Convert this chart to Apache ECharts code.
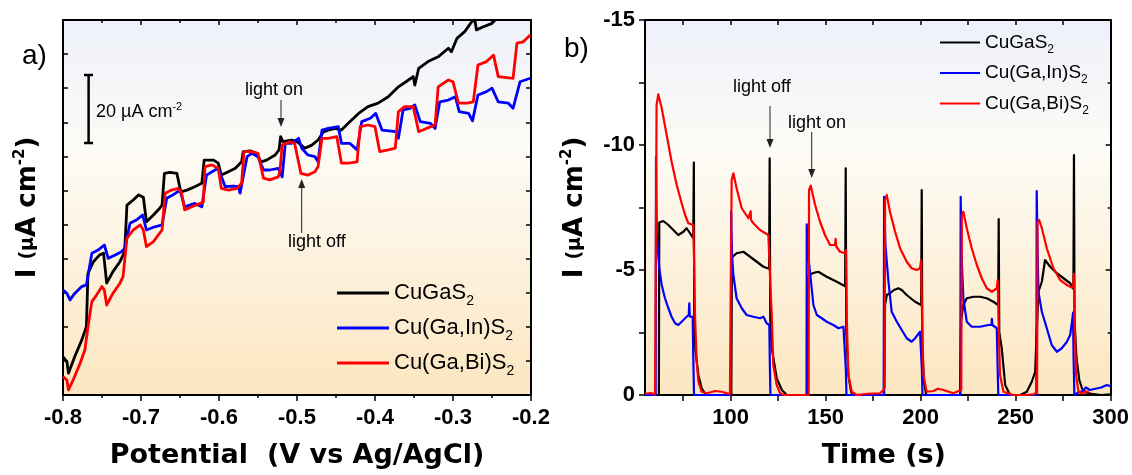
<!DOCTYPE html>
<html><head><meta charset="utf-8">
<script src="https://cdn.jsdelivr.net/npm/echarts@6/dist/echarts.min.js"></script>
<style>html,body{margin:0;padding:0;background:#fff}#c{width:1132px;height:475px}</style>
</head><body><div id="c"></div>
<script>
// ---------- names / colours ----------
const seriesNames = ['CuGaS2', 'Cu(Ga,In)S2', 'Cu(Ga,Bi)S2'];
const seriesColors = ['#000000', '#0000ff', '#ff0000'];

// ---------- panel a: chopped LSV, [potential V, current µA cm-2] ----------
const lsvCuGaS2 = [[-0.800,11.2],[-0.795,9.8],[-0.793,6.4],[-0.785,11.2],[-0.776,16.1],[-0.770,20.0],[-0.768,35.7],[-0.761,39.1],[-0.753,41.1],[-0.748,41.6],[-0.744,32.8],[-0.736,36.2],[-0.727,39.1],[-0.721,42.0],[-0.718,55.7],[-0.710,57.2],[-0.703,58.7],[-0.697,58.0],[-0.693,50.8],[-0.684,52.8],[-0.676,54.8],[-0.673,55.7],[-0.670,65.0],[-0.663,65.3],[-0.654,65.0],[-0.649,59.6],[-0.641,60.1],[-0.631,61.1],[-0.622,62.1],[-0.619,68.9],[-0.607,68.9],[-0.601,68.0],[-0.597,64.5],[-0.588,65.5],[-0.579,66.5],[-0.571,68.4],[-0.569,71.4],[-0.560,71.6],[-0.552,70.9],[-0.546,68.4],[-0.539,68.9],[-0.528,70.4],[-0.523,71.9],[-0.521,75.8],[-0.518,74.3],[-0.507,74.8],[-0.500,74.3],[-0.490,72.4],[-0.481,73.3],[-0.473,74.8],[-0.466,77.2],[-0.460,77.7],[-0.451,78.2],[-0.443,77.7],[-0.432,80.2],[-0.421,82.6],[-0.409,84.6],[-0.396,85.6],[-0.383,87.5],[-0.370,90.4],[-0.357,92.4],[-0.351,93.4],[-0.349,90.9],[-0.344,95.8],[-0.332,97.8],[-0.319,99.2],[-0.306,101.7],[-0.302,100.7],[-0.295,104.6],[-0.285,106.6],[-0.276,109.5],[-0.272,110.0],[-0.270,107.1],[-0.261,108.0],[-0.250,109.0],[-0.246,110.0]];
const lsvCuGaInS2 = [[-0.800,30.8],[-0.795,29.8],[-0.791,27.9],[-0.785,29.8],[-0.776,31.8],[-0.770,32.3],[-0.763,41.6],[-0.755,42.5],[-0.747,44.0],[-0.742,40.1],[-0.733,41.1],[-0.725,42.0],[-0.721,43.0],[-0.714,50.4],[-0.706,51.3],[-0.698,52.8],[-0.693,48.4],[-0.684,49.2],[-0.673,49.9],[-0.667,57.7],[-0.659,58.7],[-0.650,60.1],[-0.644,55.2],[-0.631,56.2],[-0.622,55.2],[-0.616,64.5],[-0.609,65.5],[-0.601,66.5],[-0.592,61.1],[-0.582,61.3],[-0.575,61.1],[-0.573,59.2],[-0.564,69.9],[-0.558,70.9],[-0.550,69.9],[-0.543,66.0],[-0.535,66.0],[-0.524,66.5],[-0.519,64.0],[-0.515,73.8],[-0.507,73.8],[-0.498,75.3],[-0.494,72.4],[-0.486,70.4],[-0.477,69.9],[-0.473,68.4],[-0.468,77.7],[-0.460,78.2],[-0.447,78.7],[-0.443,73.8],[-0.432,73.8],[-0.423,71.9],[-0.417,80.2],[-0.406,81.2],[-0.399,82.6],[-0.391,77.7],[-0.379,77.4],[-0.372,77.2],[-0.370,75.3],[-0.364,83.6],[-0.355,84.1],[-0.349,85.1],[-0.342,80.2],[-0.329,79.7],[-0.323,78.2],[-0.317,86.0],[-0.306,86.5],[-0.297,87.5],[-0.292,83.1],[-0.280,82.6],[-0.275,80.4],[-0.268,88.0],[-0.257,89.0],[-0.250,90.0],[-0.242,86.0],[-0.229,85.6],[-0.223,84.1],[-0.214,91.9],[-0.201,92.9]];
const lsvCuGaBiS2 = [[-0.800,5.4],[-0.795,4.4],[-0.793,1.5],[-0.787,4.4],[-0.778,9.3],[-0.772,13.2],[-0.768,20.0],[-0.763,27.4],[-0.757,29.3],[-0.750,31.8],[-0.747,30.8],[-0.744,26.4],[-0.736,29.8],[-0.727,32.8],[-0.723,34.7],[-0.718,46.0],[-0.710,48.4],[-0.701,49.9],[-0.697,48.4],[-0.693,43.5],[-0.684,45.0],[-0.678,46.9],[-0.673,48.4],[-0.669,59.2],[-0.661,60.1],[-0.652,60.6],[-0.648,59.2],[-0.644,54.3],[-0.635,55.2],[-0.624,56.2],[-0.620,56.7],[-0.618,67.0],[-0.609,67.5],[-0.601,66.5],[-0.597,60.6],[-0.588,60.1],[-0.577,60.6],[-0.571,62.1],[-0.568,71.4],[-0.558,71.4],[-0.550,70.9],[-0.543,63.6],[-0.535,63.1],[-0.524,64.0],[-0.522,65.5],[-0.519,73.3],[-0.509,74.3],[-0.503,73.8],[-0.495,65.0],[-0.486,64.5],[-0.477,65.5],[-0.473,67.0],[-0.468,75.3],[-0.460,75.3],[-0.449,75.8],[-0.443,68.0],[-0.434,68.0],[-0.423,68.4],[-0.419,78.7],[-0.409,79.2],[-0.400,78.7],[-0.394,71.4],[-0.383,71.9],[-0.374,72.4],[-0.370,83.1],[-0.362,84.6],[-0.351,84.6],[-0.344,77.2],[-0.334,78.2],[-0.323,79.2],[-0.319,90.4],[-0.306,92.4],[-0.300,91.9],[-0.293,85.6],[-0.282,85.6],[-0.274,86.0],[-0.268,96.8],[-0.257,97.8],[-0.248,99.7],[-0.242,93.4],[-0.223,92.9],[-0.218,103.2],[-0.210,103.6],[-0.201,105.6]];

// ---------- panel b: chronoamperometry, [time s, current µA cm-2] ----------
const caCuGaS2 = [[55,0],[62.3,0],[62.5,-6.9],[64.6,-6.96],[67.3,-6.8],[69.9,-6.6],[72.5,-6.4],[75.2,-6.53],[76.9,-6.67],[78.7,-6.47],[80.4,-6.27],[80.7,-9.3],[80.9,-3.0],[81.5,-1.8],[83.1,-0.8],[84.8,-0.27],[86.6,-0.07],[88,0],[100.4,0],[100.7,-5.5],[103.2,-5.67],[106.8,-5.73],[110.3,-5.53],[113.8,-5.33],[117.3,-5.13],[120.3,-5.05],[120.6,-9.47],[120.9,-3.0],[121.7,-1.87],[124.3,-0.67],[127,-0.2],[129.6,0],[140.4,0],[140.7,-4.7],[142.5,-4.85],[144.5,-4.9],[146.2,-4.93],[150.6,-4.73],[155.9,-4.53],[160.3,-4.35],[160.6,-9.07],[160.9,-2.5],[162,-0.8],[163.5,-0.1],[165,0],[180.8,0],[181.3,-3.6],[182.2,-4.0],[183.9,-4.07],[186,-4.2],[188.3,-4.27],[190.1,-4.2],[192.7,-4.0],[197.1,-3.73],[200.3,-3.6],[200.6,-8.2],[200.9,-2.0],[201.8,-0.5],[203,0],[220.8,0],[221.3,-3.0],[222.5,-3.6],[224.3,-3.87],[227.8,-3.93],[231.3,-3.93],[234.8,-3.87],[238.3,-3.73],[240.8,-3.6],[241.1,-7.04],[241.4,-2.5],[242.7,-1.87],[244.5,-0.4],[247.1,0],[252.4,0],[255.9,-0.13],[258.5,-0.53],[260.3,-0.93],[261.1,-2.5],[262,-4.13],[263.8,-4.53],[265.5,-5.4],[268.2,-5.13],[271.7,-4.87],[275.2,-4.67],[278.7,-4.47],[280.4,-4.25],[280.7,-9.6],[281,-3.0],[282,-1.5],[283.5,-0.6],[285,-0.25],[287,-0.1],[290,-0.05],[295,0],[300,-0.03]];
const caCuGaInS2 = [[55,0],[60.6,0],[60.8,-9.53],[61.2,-6.5],[62,-5.6],[62.5,-5.07],[63.8,-4.4],[65.5,-3.87],[67.3,-3.47],[69,-3.13],[70.8,-2.87],[72.5,-2.8],[75.2,-3.0],[76.9,-3.13],[78,-3.2],[78.3,-3.67],[78.6,-3.13],[80.1,-3.13],[80.4,-1.5],[80.8,0],[100.2,0],[100.3,-7.33],[100.8,-5.6],[101.5,-4.8],[103.2,-3.87],[105.9,-3.47],[108.5,-3.2],[112,-3.13],[115.5,-3.07],[117.3,-3.13],[119,-2.87],[120.4,-2.8],[120.7,-1.2],[121,0],[140,0],[140.1,-6.83],[140.6,-5.8],[141.8,-4.93],[143.6,-3.6],[145.4,-3.2],[148,-3.07],[150.6,-2.93],[154.1,-2.8],[156.8,-2.67],[159.4,-2.73],[160.3,-2.8],[160.7,-1.0],[161,0],[180.6,0],[180.8,-7.93],[181.5,-6.0],[183.1,-4.53],[184.8,-3.33],[187.5,-2.93],[190.1,-2.6],[192.7,-2.27],[195.3,-2.13],[197.1,-2.27],[199.7,-2.53],[200.4,-2.6],[200.7,-1.0],[201,0],[220.9,0],[221.1,-7.93],[221.6,-5.5],[222.5,-3.87],[224.3,-2.93],[226.9,-2.73],[231.3,-2.73],[235.7,-2.8],[237.3,-2.8],[237.5,-3.05],[237.8,-2.8],[240.1,-2.67],[240.5,-1.2],[240.9,0],[260.9,0],[261.1,-8.16],[261.5,-6.0],[262,-4.13],[263.8,-3.33],[266.4,-2.67],[269,-2.0],[271.7,-1.73],[274.3,-1.87],[277,-2.13],[278.7,-2.4],[279.8,-3.0],[280.2,-3.3],[280.5,-1.5],[280.9,0],[283,-0.1],[285,-0.15],[287,-0.3],[289,-0.2],[292,-0.25],[295,-0.3],[298,-0.4],[300,-0.35]];
const caCuGaBiS2 = [[55,-0.05],[58,-0.08],[60.3,-0.02],[60.9,0],[61.1,-11.6],[62,-12.03],[63.8,-11.47],[66.4,-10.4],[69,-9.33],[71.7,-8.4],[74.3,-7.67],[76.1,-7.2],[77.8,-6.87],[80.4,-6.8],[80.8,-5.5],[81.3,-3.2],[82.2,-1.33],[83.1,-0.53],[84.8,-0.13],[87.5,-0.07],[90,-0.12],[91.8,-0.16],[95.4,-0.13],[99.7,-0.03],[100.5,0],[100.6,-8.6],[101.5,-8.87],[103.2,-8.27],[105.9,-7.47],[109.4,-7.07],[110.4,-7.0],[110.6,-7.35],[110.8,-7.0],[112,-6.87],[115.5,-6.6],[119.9,-6.4],[120.6,-6.35],[121.2,-4.0],[121.7,-3.2],[122.5,-1.2],[124.3,-0.4],[126.1,-0.07],[128,0],[141.1,0],[141.3,-8.2],[142.2,-8.37],[144.5,-7.6],[147.1,-6.93],[149.7,-6.4],[152.4,-6.0],[155,-6.0],[155.3,-6.25],[155.6,-5.95],[157.6,-5.73],[160.3,-5.67],[160.8,-5.8],[161.2,-3.0],[162,-0.8],[163.8,-0.13],[166.4,0],[172,-0.05],[178.7,-0.07],[180.4,-0.2],[181.1,-0.3],[181.3,-7.8],[182.2,-8.0],[183.9,-7.33],[186.6,-6.53],[189.2,-5.87],[192.7,-5.33],[195.3,-5.07],[198,-5.0],[199.7,-5.07],[200.3,-5.4],[200.8,-3.0],[201.5,-0.8],[203.2,-0.13],[206.8,-0.16],[209,-0.25],[212,-0.2],[217.3,-0.07],[219.9,-0.16],[221.4,-0.2],[221.7,-7.2],[222.5,-7.33],[224.3,-6.67],[226.9,-5.87],[229.6,-5.2],[232.2,-4.67],[234.8,-4.27],[237.5,-4.13],[240.1,-4.27],[240.6,-4.6],[241,-3.0],[241.8,-0.8],[243.6,-0.13],[248.9,0],[255,0],[259.4,-0.03],[261.3,-0.1],[261.5,-6.9],[262.4,-7.0],[263.8,-6.67],[266.4,-5.87],[269.9,-5.07],[273.4,-4.6],[277,-4.4],[279.5,-4.3],[280.4,-4.4],[280.6,-4.85],[281,-3.0],[281.8,-0.8],[283,-0.15],[285,-0.05],[287,-0.15],[288.5,-0.1]];

// ---------- axis ticks ----------
const timeLabelValues = [100, 150, 200, 250, 300];
const timeTickValues = [75, 100, 125, 150, 175, 200, 225, 250, 275, 300];
const potentialRange = [-0.8, -0.2];
const timeRange = [55, 300];
const caRange = [-15, 0];
const lsvRange = [0, 110];

const chart = echarts.init(document.getElementById('c'), null, {renderer: 'canvas'});

const TICKFONT = {fontFamily: 'Liberation Sans', fontWeight: 'bold', fontSize: 22, color: '#000'};
const AXLINE = {show: true, onZero: false, lineStyle: {color: '#000', width: 2}};
const TICKLINE = {color: '#000', width: 1.5};
const nameRich = {
  b: {fontFamily: 'DejaVu Sans', fontWeight: 'bold', fontSize: 26, lineHeight: 30, color: '#000'},
  m: {fontFamily: 'DejaVu Sans', fontWeight: 'bold', fontSize: 19, lineHeight: 30, color: '#000'},
  p: {fontFamily: 'DejaVu Sans', fontWeight: 'bold', fontSize: 15, lineHeight: 15, verticalAlign: 'top', color: '#000'}
};
const yName = '{b|I} {m|(µ}{b|A cm}{p|-2}{b|)}';

function bg() {
  return new echarts.graphic.LinearGradient(0, 0, 0, 1, [
    {offset: 0, color: '#eef1fb'},
    {offset: 0.36, color: '#fdfbf5'},
    {offset: 1, color: '#fce6c0'}
  ]);
}

function legendFmt(name) {
  const m = name.match(/^(.*)2$/);
  return '{n|' + m[1] + '}{s|2}';
}

const option = {
  animation: false,
  backgroundColor: '#ffffff',
  grid: [
    {left: 63, top: 20, width: 468, height: 375, show: true, backgroundColor: bg(), borderWidth: 0},
    {left: 645, top: 20, width: 466, height: 375, show: true, backgroundColor: bg(), borderWidth: 0}
  ],
  xAxis: [
    {type: 'value', gridIndex: 0, position: 'bottom', min: potentialRange[0], max: potentialRange[1], interval: 0.1,
     axisLine: AXLINE, axisTick: {show: true, inside: false, length: 6, lineStyle: TICKLINE},
     minorTick: {show: true, splitNumber: 2, length: 3, lineStyle: TICKLINE},
     axisLabel: Object.assign({margin: 12, formatter: v => v.toFixed(1)}, TICKFONT),
     splitLine: {show: false}, minorSplitLine: {show: false},
     name: 'Potential  (V vs Ag/AgCl)', nameLocation: 'middle', nameGap: 47,
     nameTextStyle: {fontFamily: 'DejaVu Sans', fontWeight: 'bold', fontSize: 27, color: '#000'}},
    {type: 'value', gridIndex: 0, position: 'top', min: potentialRange[0], max: potentialRange[1], interval: 0.1,
     axisLine: AXLINE, axisTick: {show: true, inside: true, length: 5, lineStyle: TICKLINE},
     minorTick: {show: true, splitNumber: 2, length: 3, lineStyle: TICKLINE},
     axisLabel: {show: false}, splitLine: {show: false}},
    {type: 'value', gridIndex: 1, position: 'bottom', min: timeRange[0], max: timeRange[1],
     axisLine: AXLINE, axisTick: {show: true, inside: false, length: 6, lineStyle: TICKLINE, customValues: timeTickValues},
     axisLabel: Object.assign({margin: 12, customValues: timeLabelValues}, TICKFONT),
     splitLine: {show: false},
     name: 'Time (s)', nameLocation: 'middle', nameGap: 47,
     nameTextStyle: {fontFamily: 'DejaVu Sans', fontWeight: 'bold', fontSize: 27, color: '#000', padding: [0, 0, 0, 12]}},
    {type: 'value', gridIndex: 1, position: 'top', min: timeRange[0], max: timeRange[1],
     axisLine: AXLINE, axisTick: {show: true, inside: true, length: 5, lineStyle: TICKLINE, customValues: timeTickValues},
     axisLabel: {show: false, customValues: timeLabelValues}, splitLine: {show: false}}
  ],
  yAxis: [
    {type: 'value', gridIndex: 0, position: 'left', min: lsvRange[0], max: lsvRange[1], interval: 10,
     axisLine: AXLINE, axisTick: {show: true, inside: true, length: 5, lineStyle: TICKLINE},
     axisLabel: {show: false}, splitLine: {show: false},
     name: yName, nameLocation: 'middle', nameRotate: 90, nameGap: 20,
     nameTextStyle: {fontFamily: 'DejaVu Sans', fontWeight: 'bold', fontSize: 26, color: '#000', rich: nameRich}},
    {type: 'value', gridIndex: 0, position: 'right', min: lsvRange[0], max: lsvRange[1], interval: 10,
     axisLine: AXLINE, axisTick: {show: true, inside: true, length: 5, lineStyle: TICKLINE},
     axisLabel: {show: false}, splitLine: {show: false}},
    {type: 'value', gridIndex: 1, position: 'left', min: caRange[0], max: caRange[1], interval: 5, inverse: true,
     axisLine: AXLINE, axisTick: {show: true, inside: false, length: 6, lineStyle: TICKLINE},
     minorTick: {show: true, splitNumber: 2, length: 6, lineStyle: TICKLINE},
     axisLabel: Object.assign({margin: 10}, TICKFONT), splitLine: {show: false},
     name: yName, nameLocation: 'middle', nameRotate: 90, nameGap: 55,
     nameTextStyle: {fontFamily: 'DejaVu Sans', fontWeight: 'bold', fontSize: 26, color: '#000', rich: nameRich}},
    {type: 'value', gridIndex: 1, position: 'right', min: caRange[0], max: caRange[1], interval: 5, inverse: true,
     axisLine: AXLINE, axisTick: {show: true, inside: true, length: 5, lineStyle: TICKLINE},
     minorTick: {show: true, splitNumber: 2, length: 3, lineStyle: TICKLINE},
     axisLabel: {show: false}, splitLine: {show: false}}
  ],
  legend: [
    {orient: 'vertical', left: 337, top: 282, padding: 0, itemGap: 9, itemWidth: 52, itemHeight: 3, icon: 'rect',
     selectedMode: false, data: seriesNames, formatter: legendFmt,
     textStyle: {rich: {
       n: {fontFamily: 'Liberation Sans', fontSize: 22, lineHeight: 30, color: '#000'},
       s: {fontFamily: 'Liberation Sans', fontSize: 14, lineHeight: 14, verticalAlign: 'bottom', color: '#000'}}}},
    {orient: 'vertical', left: 940, top: 33, padding: 0, itemGap: 8, itemWidth: 40, itemHeight: 2, icon: 'rect',
     selectedMode: false, data: seriesNames, formatter: legendFmt,
     textStyle: {rich: {
       n: {fontFamily: 'Liberation Sans', fontSize: 19, lineHeight: 26, color: '#000'},
       s: {fontFamily: 'Liberation Sans', fontSize: 12, lineHeight: 12, verticalAlign: 'bottom', color: '#000'}}}}
  ],
  series: [],
  graphic: []
};

const lsvData = [lsvCuGaS2, lsvCuGaInS2, lsvCuGaBiS2];
const caData = [caCuGaS2, caCuGaInS2, caCuGaBiS2];
for (let i = 0; i < 3; i++) {
  option.series.push({type: 'line', name: seriesNames[i], xAxisIndex: 0, yAxisIndex: 0, data: lsvData[i],
    showSymbol: false, symbol: 'none', color: seriesColors[i], z: 2 + i,
    lineStyle: {color: seriesColors[i], width: 2.8, join: 'round'}, clip: true});
}
for (let i = 0; i < 3; i++) {
  option.series.push({type: 'line', name: seriesNames[i], xAxisIndex: 2, yAxisIndex: 2, data: caData[i],
    showSymbol: false, symbol: 'none', color: seriesColors[i], z: 2 + i,
    lineStyle: {color: seriesColors[i], width: 2.2, join: 'round'}, clip: true});
}

// ---------- annotations ----------
const ANN = {fontFamily: 'Liberation Sans', fontSize: 18, fill: '#000'};
function txt(x, y, t, extra) {
  return {type: 'text', x: x, y: y, z: 100,
    style: Object.assign({text: t, verticalAlign: 'middle', align: 'left'}, ANN, extra || {})};
}
function arrow(x, y1, y2) {
  const dir = y2 > y1 ? 1 : -1;
  return [
    {type: 'line', z: 100, shape: {x1: x, y1: y1, x2: x, y2: y2 - dir * 7}, style: {stroke: '#222', lineWidth: 1}},
    {type: 'polygon', z: 100, shape: {points: [[x - 3.5, y2 - dir * 9], [x + 3.5, y2 - dir * 9], [x, y2]]}, style: {fill: '#222'}}
  ];
}
option.graphic = [
  txt(22, 56, 'a)', {fontSize: 28}),
  txt(564, 49, 'b)', {fontSize: 28}),
  txt(245, 90, 'light on'),
  ...arrow(281, 100, 127),
  txt(288, 242, 'light off'),
  ...arrow(301.7, 233, 179),
  txt(733, 87, 'light off'),
  ...arrow(770, 106, 148),
  txt(788, 123, 'light on'),
  ...arrow(811.7, 132, 178),
  {type: 'line', z: 100, shape: {x1: 88.6, y1: 75, x2: 88.6, y2: 143}, style: {stroke: '#000', lineWidth: 2.5}},
  {type: 'line', z: 100, shape: {x1: 84, y1: 75, x2: 93, y2: 75}, style: {stroke: '#000', lineWidth: 2.5}},
  {type: 'line', z: 100, shape: {x1: 84, y1: 143, x2: 93, y2: 143}, style: {stroke: '#000', lineWidth: 2.5}},
  txt(96, 112, '{r|20 µA cm}{p|-2}', {rich: {
    r: {fontFamily: 'Liberation Sans', fontSize: 18, lineHeight: 22, fill: '#000', color: '#000'},
    p: {fontFamily: 'Liberation Sans', fontSize: 11, lineHeight: 11, verticalAlign: 'top', fill: '#000', color: '#000'}}})
];

chart.setOption(option);
</script>
</body></html>
